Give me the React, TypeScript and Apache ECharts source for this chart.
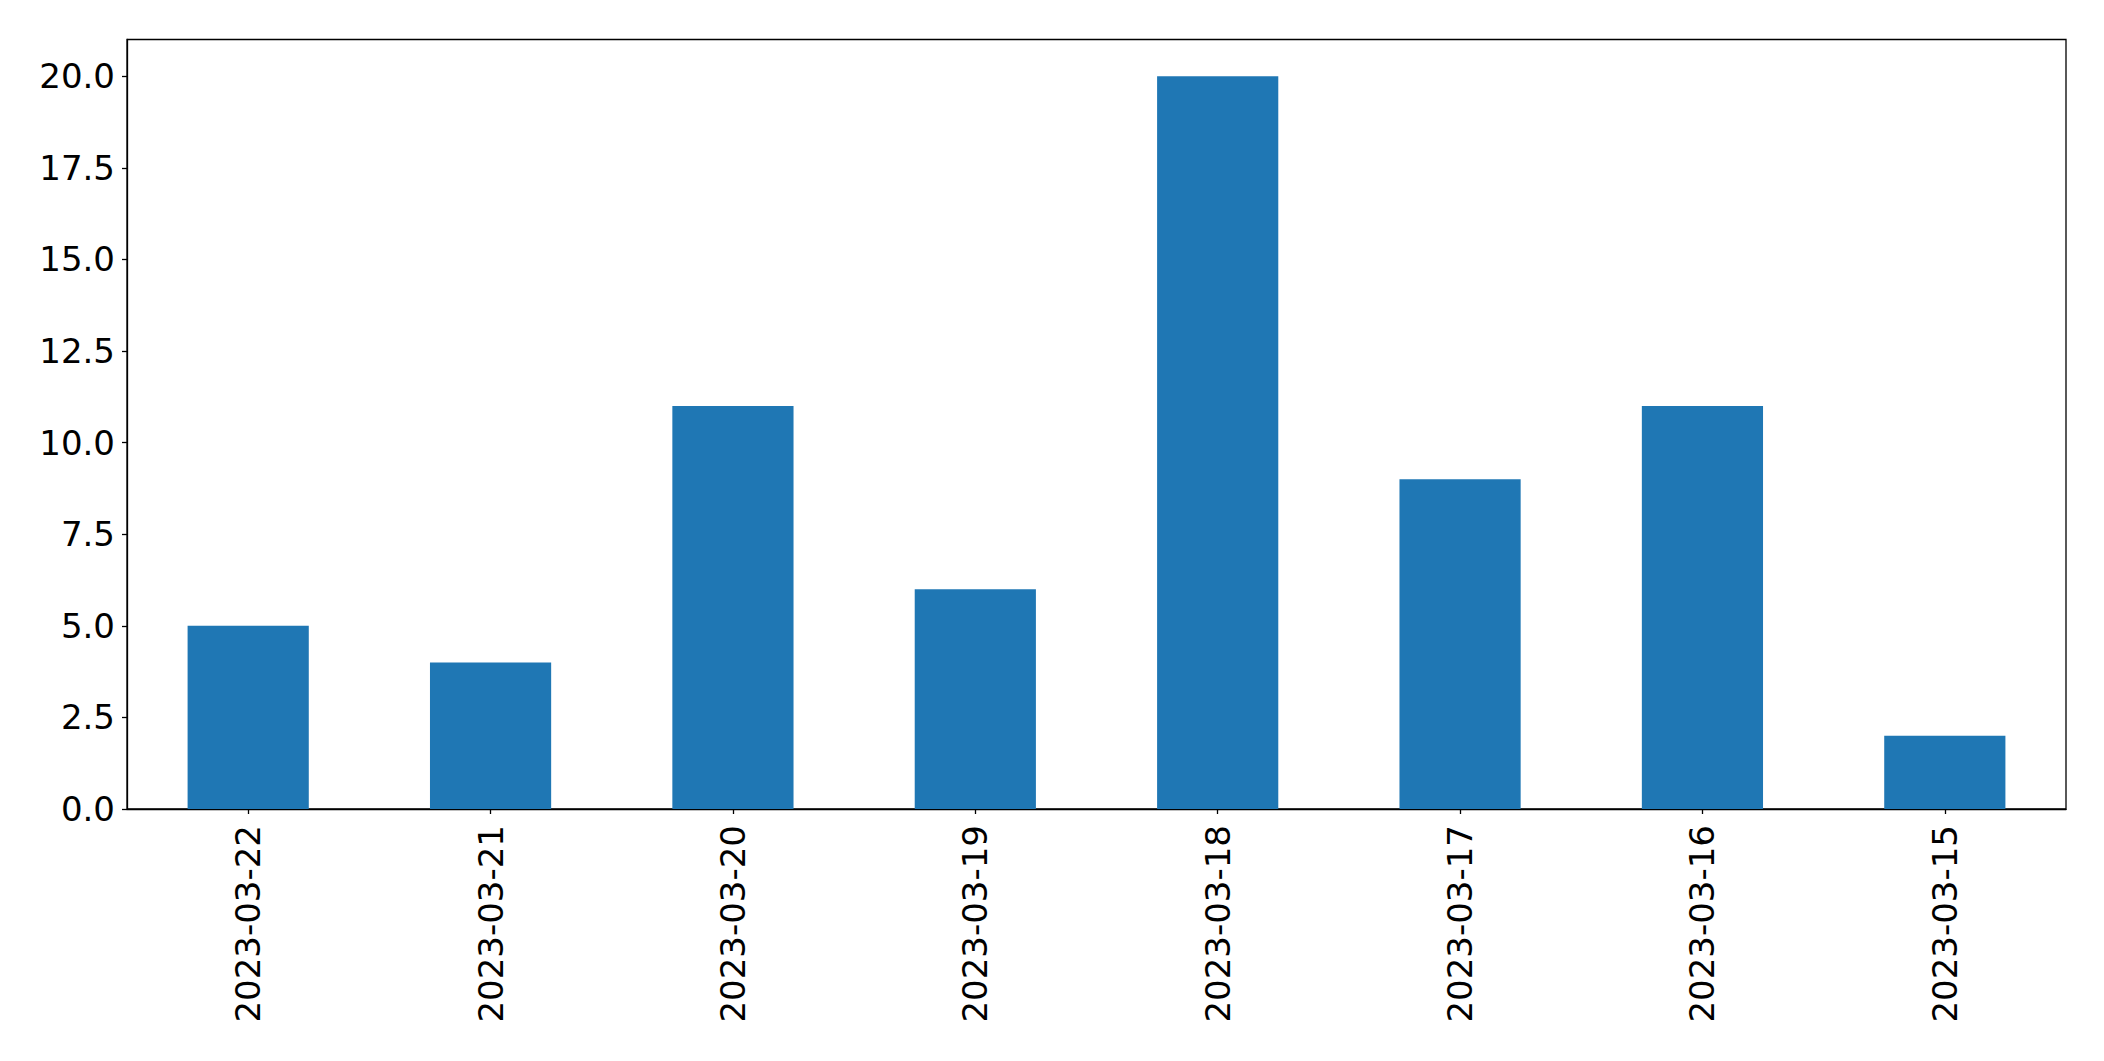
import React, { useEffect, useRef } from "react";
import * as echarts from "echarts";

const categories = ["2023-03-22", "2023-03-21", "2023-03-20", "2023-03-19", "2023-03-18", "2023-03-17", "2023-03-16", "2023-03-15"];
const values = [5, 4, 11, 6, 20, 9, 11, 2];
const yTicks = [0, 2.5, 5, 7.5, 10, 12.5, 15, 17.5, 20];

export default function App() {
  const ref = useRef<HTMLDivElement>(null);
  useEffect(() => {
    if (!ref.current) return;
    const chart = echarts.init(ref.current, undefined, { renderer: "svg" });
    const font = "DejaVu Sans";
    chart.setOption({
      animation: false,
      backgroundColor: "#ffffff",
      grid: {
        left: 127,
        right: 38,
        top: 39.5,
        bottom: 252,
        show: true,
        borderColor: "#000000",
        borderWidth: 1.3,
        backgroundColor: "transparent",
      },
      xAxis: {
        type: "category",
        data: categories,
        axisLine: { show: true, lineStyle: { color: "#000", width: 1.3 } },
        axisTick: { show: true, alignWithLabel: true, length: 5, lineStyle: { color: "#000", width: 1.3 } },
        axisLabel: { rotate: 90, margin: 16, fontSize: 34, fontFamily: font, color: "#000", interval: 0 },
        splitLine: { show: false },
      },
      yAxis: {
        type: "value",
        min: 0,
        max: 21,
        interval: 2.5,
        axisLine: { show: true, lineStyle: { color: "#000", width: 1.3 } },
        axisTick: { show: true, length: 5, lineStyle: { color: "#000", width: 1.3 } },
        axisLabel: {
          fontSize: 34,
          fontFamily: font,
          color: "#000",
          margin: 12,
          showMaxLabel: false,
          formatter: (v: number) => (yTicks.includes(v) ? v.toFixed(1) : ""),
        },
        splitLine: { show: false },
      },
      series: [
        {
          type: "bar",
          data: values,
          barWidth: "50%",
          itemStyle: { color: "#1f77b4" },
        },
      ],
    });
    return () => chart.dispose();
  }, []);
  return <div ref={ref} style={{ position: "fixed", left: 0, top: 0, width: 2104, height: 1061 }} />;
}
